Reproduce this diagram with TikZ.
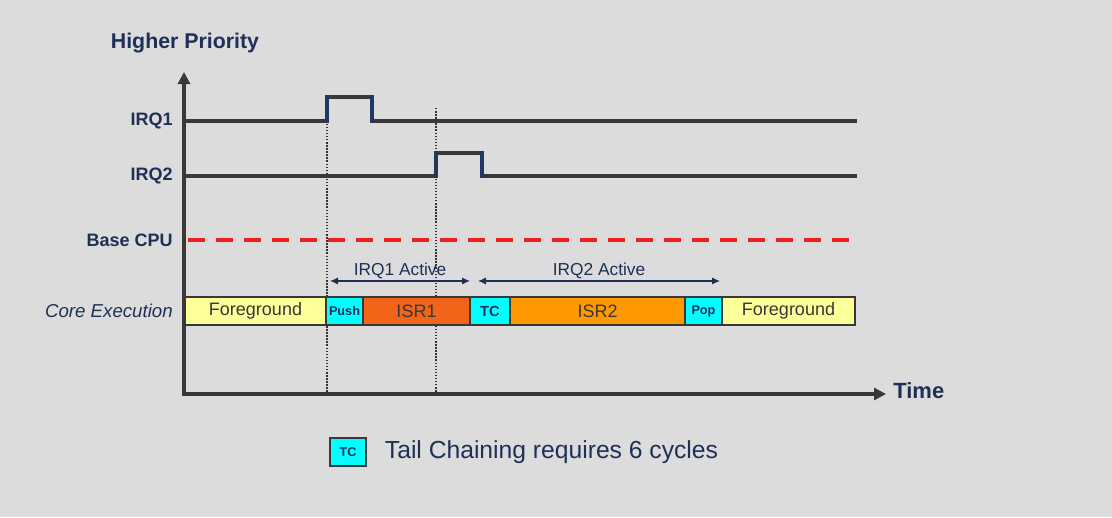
\documentclass[tikz,border=0pt]{standalone}
\usepackage{fontspec}
\setmainfont{Liberation Sans}
\usetikzlibrary{arrows.meta,positioning}
\definecolor{bgrey}{HTML}{DCDCDC}
\definecolor{navy}{HTML}{1F3057}
\definecolor{axisgrey}{HTML}{383838}
\definecolor{pulseblue}{HTML}{1F3864}
\definecolor{fgyellow}{HTML}{FFFF99}
\definecolor{tccyan}{HTML}{00FFFF}
\definecolor{isrred}{HTML}{F26419}
\definecolor{isrorange}{HTML}{FF9900}
\definecolor{cpured}{HTML}{F01E1E}

\begin{document}
\begin{tikzpicture}[x=0.75pt,y=-0.75pt,
 lab/.style={font=\fontsize{13.5}{16}\selectfont\bfseries,text=navy,anchor=east,inner sep=0pt},
 axis/.style={draw=axisgrey,line width=3pt,{Triangle[length=9pt,width=9pt]}-{Triangle[length=9pt,width=9pt]}},
 wave/.style={draw=axisgrey,line width=2.5pt,line cap=rect},
 pulse/.style={draw=pulseblue,line width=2.5pt,line cap=rect},
 vline/.style={draw=black!80,line width=1.3pt,dash pattern=on 1.1pt off 1.2pt},
 cpuline/.style={draw=cpured,line width=3.2pt,dash pattern=on 12.5pt off 8.5pt},
 seg/.style={draw=axisgrey,line width=0.8pt,minimum height=21pt,inner sep=0pt,outer sep=0pt,text=axisgrey,font=\fontsize{13.5}{16}\selectfont},
 tag/.style={seg,fill=tccyan,text=navy,font=\fontsize{9.5}{11}\selectfont\bfseries},
 span/.style={draw=navy,line width=1pt,{Latex[length=6pt,width=5.5pt]}-{Latex[length=6pt,width=5.5pt]}},
 spanlab/.style={text=navy,font=\fontsize{13}{15}\selectfont,inner sep=1.5pt,above}]
\path[use as bounding box,fill=bgrey] (0,0) rectangle (1112,517);

% axes
\node[font=\fontsize{16}{19}\selectfont\bfseries,text=navy] (prio) at (185,43) {Higher Priority};
\node[font=\fontsize{16.5}{19}\selectfont\bfseries,text=navy,anchor=west,inner sep=0pt] (time) at (893,391) {Time};
\coordinate (o) at (184,394);
\coordinate (ytip) at (184,72);
\coordinate (xtip) at (886,394);
\draw[axis] (ytip) |- (xtip);

% interrupt lines
\node[lab] (irq1) at (173,121) {IRQ1};
\coordinate (r1) at (327,121);
\coordinate (f1) at (372,121);
\coordinate (r1t) at (327,97);
\coordinate (f1t) at (372,97);
\coordinate (e1) at (855,121);
\draw[wave] (o |- irq1) -- (r1) (r1t) -- (f1t) (f1) -- (e1);
\draw[pulse] (r1) -- (r1t) (f1t) -- (f1);

\node[lab] (irq2) at (173,176) {IRQ2};
\coordinate (r2) at (436,176);
\coordinate (f2) at (482,176);
\coordinate (r2t) at (436,153);
\coordinate (f2t) at (482,153);
\draw[wave] (o |- irq2) -- (r2) (r2t) -- (f2t) (f2) -- (e1 |- irq2);
\draw[pulse] (r2) -- (r2t) (f2t) -- (f2);

\node[lab] (cpu) at (173,240) {Base CPU};
\draw[cpuline] ([xshift=3pt]o |- cpu) -- (e1 |- cpu);

\draw[vline] ([yshift=-2pt]r1) -- (r1 |- o);
\draw[vline] (r2 |- 0,108) -- (r2 |- o);

% core execution
\node[lab,font=\fontsize{14}{16}\selectfont\itshape] (core) at (173,311) {Core Execution};
\node[seg,fill=fgyellow,minimum width=141*0.75pt,anchor=west] (fg1) at (185,311) {Foreground};
\node[tag,minimum width=37*0.75pt,right=0pt of fg1] (push) {Push};
\node[seg,fill=isrred,minimum width=107*0.75pt,right=0pt of push] (isr1) {ISR1};
\node[tag,font=\fontsize{11}{13}\selectfont\bfseries,minimum width=40*0.75pt,right=0pt of isr1] (tc) {TC};
\node[seg,fill=isrorange,minimum width=175*0.75pt,right=0pt of tc] (isr2) {ISR2};
\node[tag,minimum width=37*0.75pt,right=0pt of isr2] (pop) {Pop};
\node[seg,fill=fgyellow,minimum width=133*0.75pt,right=0pt of pop] (fg2) {Foreground};

\draw[span] ([xshift=3pt,yshift=12pt]push.north west) -- ([yshift=12pt]isr1.north east)
  node[spanlab,midway] (act1) {IRQ1 Active};
\draw[span] ([xshift=6pt,yshift=12pt]tc.north west) -- ([xshift=-1.5pt,yshift=12pt]pop.north east)
  node[spanlab,midway] (act2) {IRQ2 Active};

% key
\node[tag,minimum width=27pt,anchor=west] (key) at (330,452) {TC};
\node[right=14pt of key,inner sep=0pt,text=navy,font=\fontsize{18.5}{22}\selectfont] (keytext) {Tail Chaining requires 6 cycles};
\end{tikzpicture}
\end{document}
